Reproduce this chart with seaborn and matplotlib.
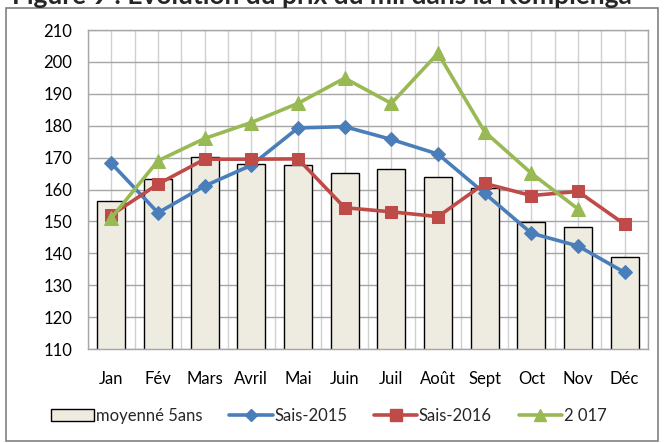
import matplotlib
matplotlib.use("Agg")
import matplotlib.pyplot as plt
import seaborn as sns
import pandas as pd
from matplotlib.patches import Rectangle, Patch
from matplotlib.lines import Line2D

months = ["Jan", "Fév", "Mars", "Avril", "Mai", "Juin", "Juil", "Août", "Sept", "Oct", "Nov", "Déc"]
moyenne_5ans = [156.5, 163.2, 170.3, 168.0, 167.7, 165.1, 166.3, 164.0, 160.4, 149.9, 148.2, 138.9]
sais_2015 = [168.2, 152.7, 161.1, 167.6, 179.3, 179.7, 175.7, 171.1, 158.8, 146.3, 142.3, 134.0]
sais_2016 = [152.0, 161.7, 169.5, 169.5, 169.6, 154.3, 153.0, 151.5, 161.9, 158.1, 159.4, 149.1]
an_2017 = [151.1, 169.0, 176.0, 181.0, 187.0, 194.9, 187.0, 202.7, 178.1, 165.1, 153.9]

c_bar = "#EEECE1"
c_2015 = "#4A7EBB"
c_2016 = "#BE4B48"
c_2017 = "#98B954"

sns.set_style("white")
plt.rcParams["font.family"] = ["Lato", "DejaVu Sans"]

fig = plt.figure(figsize=(6.64, 4.43), dpi=100)
ax = fig.add_axes([88 / 664, 1 - 349 / 443, 560 / 664, 319 / 443])

df_bar = pd.DataFrame({"Mois": months, "Prix": moyenne_5ans})
sns.barplot(data=df_bar, x="Mois", y="Prix", color=c_bar, edgecolor="black",
            linewidth=1.0, width=0.6, saturation=1, ax=ax, zorder=2)

series = [
    ("Sais-2015", sais_2015, c_2015, "D", 7),
    ("Sais-2016", sais_2016, c_2016, "s", 9),
    ("2 017", an_2017, c_2017, "^", 10),
]
for name, vals, col, mk, ms in series:
    d = pd.DataFrame({"Mois": months[:len(vals)], "Prix": vals})
    sns.lineplot(data=d, x="Mois", y="Prix", color=col, marker=mk, markersize=ms,
                 markeredgecolor=col, linewidth=2.6, ax=ax, zorder=3, sort=False)

ax.set_ylim(110, 210)
ax.set_xlim(-0.5, 11.5)
ax.set_yticks(range(110, 211, 10))
ax.set_xticks(range(12))
ax.set_xticklabels(months)
ax.set_xticks([i + 0.5 for i in range(-1, 12)], minor=True)
ax.grid(True, which="major", axis="y", color="#a6a6a6", linewidth=1.0, zorder=0)
ax.grid(True, which="both", axis="x", color="#d0d0d0", linewidth=1.0, zorder=0)
ax.set_axisbelow(True)
ax.set_xlabel("")
ax.set_ylabel("")
ax.tick_params(axis="both", length=0, labelsize=12, colors="black")
ax.tick_params(axis="y", pad=32)
ax.tick_params(axis="x", pad=16)
for lbl in ax.get_yticklabels():
    lbl.set_horizontalalignment("left")
for s in ax.spines.values():
    s.set_color("#a6a6a6")
    s.set_linewidth(1.0)

handles = [
    Patch(facecolor=c_bar, edgecolor="black", linewidth=1.0),
    Line2D([], [], color=c_2015, marker="D", markersize=6, linewidth=2.6),
    Line2D([], [], color=c_2016, marker="s", markersize=8, linewidth=2.6),
    Line2D([], [], color=c_2017, marker="^", markersize=8, linewidth=2.6),
]
labels = ["moyenné 5ans", "Sais-2015", "Sais-2016", "2 017"]
fig.legend(handles, labels, loc="center", bbox_to_anchor=(0.495, 1 - 416 / 443), ncol=4,
           frameon=False, fontsize=12, handlelength=2.6, handletextpad=0.1,
           columnspacing=1.6)

fig.add_artist(Rectangle((6 / 664, 1 - 441 / 443), 652 / 664, 433 / 443,
                         transform=fig.transFigure, fill=False,
                         edgecolor="#808080", linewidth=1.2))
fig.text(0.485, 1 - 4 / 443, "Figure 9 : Evolution du prix du mil dans la Kompienga",
         ha="center", va="baseline", fontsize=19, fontweight="bold")

fig.savefig("out.png", dpi=100)
